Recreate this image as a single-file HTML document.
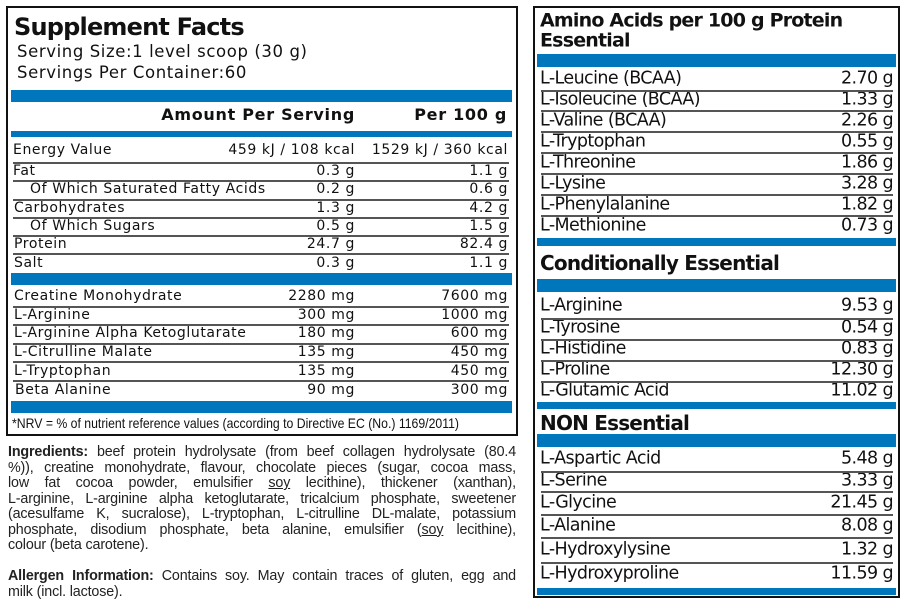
<!DOCTYPE html>
<html><head><meta charset="utf-8"><style>
*{margin:0;padding:0;box-sizing:border-box}
body{width:906px;height:608px;background:#fff;position:relative;overflow:hidden;color:#111}
.a{position:absolute;white-space:nowrap;line-height:1}
.box{position:absolute;border:2.5px solid #111}
.bar{position:absolute;background:#0076bd}
.ln{position:absolute;height:1.5px;background:#555}
.v{font-family:"DejaVu Sans",sans-serif;font-size:14px;letter-spacing:0.6px;transform:translateY(-50%)}
.m{font-family:"DejaVu Sans",sans-serif;font-size:17.5px;transform:translateY(-50%);letter-spacing:-0.6px}
.mh{font-family:"DejaVu Sans",sans-serif;font-weight:bold;font-size:20px;transform:translateY(-50%);letter-spacing:-0.8px}
.p{position:absolute;left:8px;width:508px;font-family:"Liberation Sans",sans-serif;font-size:14.3px;line-height:15.5px;color:#222;letter-spacing:-0.15px}
.p div{text-align:justify;text-align-last:justify;white-space:nowrap;height:15.5px}
.p div.e{text-align-last:left}
</style></head><body>
<div class="box" style="left:6px;top:6px;width:512px;height:430px"></div>
<div class="a" style="left:14px;top:27px;font-family:'DejaVu Sans',sans-serif;font-weight:bold;font-size:24px;transform:translateY(-50%);letter-spacing:-0.8px">Supplement Facts</div>
<div class="a v" style="left:17px;top:52px;font-size:16.5px;letter-spacing:0.6px">Serving Size:1 level scoop (30 g)</div>
<div class="a v" style="left:17px;top:73px;font-size:16.5px;letter-spacing:0.6px">Servings Per Container:60</div>
<div class="bar" style="left:11px;top:90px;width:501px;height:12px"></div>
<div class="a v" style="right:551px;top:115px;font-weight:bold;font-size:16px;letter-spacing:0.7px">Amount Per Serving</div>
<div class="a v" style="right:399px;top:115px;font-weight:bold;font-size:16px;letter-spacing:0.7px">Per 100 g</div>
<div class="bar" style="left:11px;top:131px;width:501px;height:6px"></div>
<div id="L"></div>
<div class="bar" style="left:11px;top:273px;width:501px;height:12px"></div>
<div class="bar" style="left:11px;top:401px;width:501px;height:12px"></div>
<div class="a" style="left:12px;top:423px;font-family:'Liberation Sans',sans-serif;font-size:14px;transform:translateY(-50%) scaleX(0.875);transform-origin:left center">*NRV = % of nutrient reference values (according to Directive EC (No.) 1169/2011)</div>
<div class="p" style="top:445px">
<div><b>Ingredients:</b> beef protein hydrolysate (from beef collagen hydrolysate (80.4</div>
<div>%)), creatine monohydrate, flavour, chocolate pieces (sugar, cocoa mass,</div>
<div>low fat cocoa powder, emulsifier <u>soy</u> lecithine), thickener (xanthan),</div>
<div>L-arginine, L-arginine alpha ketoglutarate, tricalcium phosphate, sweetener</div>
<div>(acesulfame K, sucralose), L-tryptophan, L-citrulline DL-malate, potassium</div>
<div>phosphate, disodium phosphate, beta alanine, emulsifier (<u>soy</u> lecithine),</div>
<div class="e">colour (beta carotene).</div>
</div>
<div class="p" style="top:569px">
<div><b>Allergen Information:</b> Contains soy. May contain traces of gluten, egg and</div>
<div class="e">milk (incl. lactose).</div>
</div>

<div class="box" style="left:533px;top:6px;width:367px;height:592px"></div>
<div class="a mh" style="left:540px;top:21px;font-size:19px">Amino Acids per 100 g Protein</div>
<div class="a mh" style="left:540px;top:41px;font-size:19px">Essential</div>
<div class="bar" style="left:537px;top:54px;width:359px;height:13px"></div>
<div class="bar" style="left:537px;top:238px;width:359px;height:8px"></div>
<div class="a mh" style="left:540px;top:263px">Conditionally Essential</div>
<div class="bar" style="left:537px;top:279px;width:359px;height:13px"></div>
<div class="bar" style="left:537px;top:402px;width:359px;height:7px"></div>
<div class="a mh" style="left:540px;top:423px">NON Essential</div>
<div class="bar" style="left:537px;top:434px;width:359px;height:13px"></div>
<div class="bar" style="left:537px;top:588px;width:359px;height:7px"></div>
<div id="R"></div>
<script>
var L=[["Energy Value","459 kJ / 108 kcal","1529 kJ / 360 kcal",150,13],["Fat","0.3 g","1.1 g",171,13],["Of Which Saturated Fatty Acids","0.2 g","0.6 g",189,30],["Carbohydrates","1.3 g","4.2 g",208,14],["Of Which Sugars","0.5 g","1.5 g",226,30],["Protein","24.7 g","82.4 g",244,14],["Salt","0.3 g","1.1 g",263,14],
["Creatine Monohydrate","2280 mg","7600 mg",296,14],["L-Arginine","300 mg","1000 mg",315,14],["L-Arginine Alpha Ketoglutarate","180 mg","600 mg",333,14],["L-Citrulline Malate","135 mg","450 mg",352,14],["L-Tryptophan","135 mg","450 mg",371,14],["Beta Alanine","90 mg","300 mg",390,15]];
var lines=[162,180,199,217,235,253,306,324,343,361,380];
var h="";
L.forEach(function(r){h+='<div class="a v" style="left:'+r[4]+'px;top:'+r[3]+'px">'+r[0]+'</div><div class="a v" style="right:551px;top:'+r[3]+'px">'+r[1]+'</div><div class="a v" style="right:398px;top:'+r[3]+'px">'+r[2]+'</div>';});
lines.forEach(function(y){h+='<div class="ln" style="left:13px;width:496px;top:'+y+'px"></div>';});
document.getElementById("L").outerHTML=h;
var R=[["L-Leucine (BCAA)","2.70 g",79],["L-Isoleucine (BCAA)","1.33 g",100],["L-Valine (BCAA)","2.26 g",121],["L-Tryptophan","0.55 g",142],["L-Threonine","1.86 g",163],["L-Lysine","3.28 g",184],["L-Phenylalanine","1.82 g",205],["L-Methionine","0.73 g",226],
["L-Arginine","9.53 g",306],["L-Tyrosine","0.54 g",328],["L-Histidine","0.83 g",349],["L-Proline","12.30 g",370],["L-Glutamic Acid","11.02 g",391],
["L-Aspartic Acid","5.48 g",459],["L-Serine","3.33 g",481],["L-Glycine","21.45 g",503],["L-Alanine","8.08 g",526],["L-Hydroxylysine","1.32 g",550],["L-Hydroxyproline","11.59 g",574]];
var rl=[90,110,131,152,173,194,215,318,339,360,381,471,491,514,537,562];
h="";
R.forEach(function(r){h+='<div class="a m" style="left:540px;top:'+r[2]+'px">'+r[0]+'</div><div class="a m" style="right:13px;top:'+r[2]+'px">'+r[1]+'</div>';});
rl.forEach(function(y){h+='<div class="ln" style="left:541px;width:352px;top:'+y+'px"></div>';});
document.getElementById("R").outerHTML=h;
</script>
</body></html>
